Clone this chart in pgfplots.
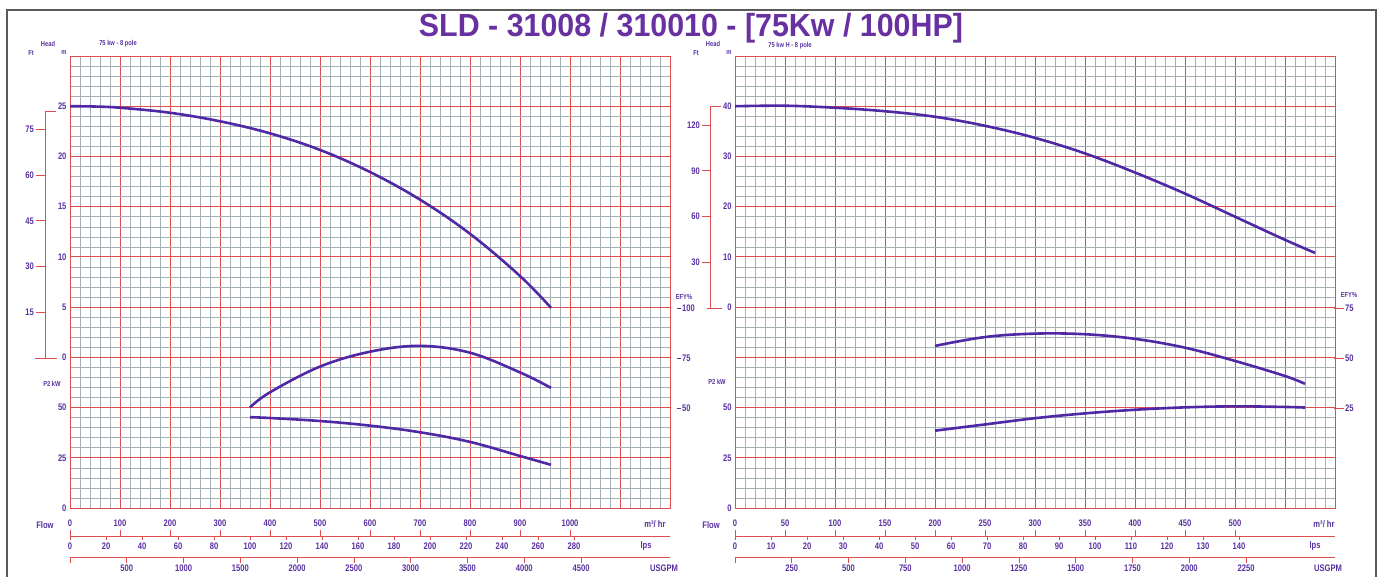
\documentclass[border=0pt]{standalone}
\usepackage{pgfplots}
\pgfplotsset{compat=1.18}
\usepackage{pgfplotstable}
\usepackage{fontspec}
\setmainfont{Liberation Sans}
\newfontfamily\cond{Liberation Sans}[FakeStretch=0.8]
\newfontfamily\titlefont{Liberation Sans}[FakeStretch=0.95]
\definecolor{gridred}{RGB}{222,78,78}
\definecolor{gridgray}{RGB}{162,176,182}
\definecolor{labcol}{RGB}{88,48,160}
\definecolor{curve}{RGB}{78,40,165}
\definecolor{titlecol}{RGB}{104,48,160}
\definecolor{framecol}{RGB}{90,90,90}
\newcommand\lab{\cond\bfseries\fontsize{9.5}{10}\selectfont}
\newcommand\smlab{\cond\bfseries\fontsize{7.2}{8}\selectfont}

% Left panel (SLD-31008): Q in m3/hr, H in m, E in %, P in kW
\pgfplotstableread{
Q H
0 25.0
50 24.97
100 24.85
200 24.35
300 23.5
400 22.3
500 20.65
600 18.45
700 15.7
800 12.3
900 8.1
962 4.93
}\leftH
\pgfplotstableread{
Q E
360 50.1
400 57.6
500 70.4
600 77.8
700 80.7
800 77.3
900 67.5
962 59.8
}\leftE
\pgfplotstableread{
Q P
360 45.2
400 44.8
500 43.3
600 41.0
700 37.7
800 32.9
900 25.9
962 21.5
}\leftP
% Right panel (SLD-310010)
\pgfplotstableread{
Q H
0 40.0
50 40.1
100 39.7
150 39.0
200 37.9
250 36.1
300 33.7
350 30.6
400 26.8
450 22.6
500 18.0
550 13.4
580 10.8
}\rightH
\pgfplotstableread{
Q E
200 55.7
250 60.1
300 61.8
350 61.5
400 59.2
450 54.8
500 48.2
550 40.7
570 36.8
}\rightE
\pgfplotstableread{
Q P
200 38.5
250 41.6
300 44.7
350 47.1
400 48.9
450 50.1
500 50.6
550 50.3
570 50.0
}\rightP

\pgfplotsset{panel/.style={scale only axis, width=600pt, height=452pt, anchor=south west,
  ymin=0, ymax=9, ytick={0,...,9}, minor y tick num=4, minor x tick num=4,
  grid=both, major grid style={draw=gridred, line width=0.9pt},
  minor grid style={draw=gridgray, line width=0.5pt},
  axis line style={draw=gridred, line width=1pt},
  major tick length=0pt, minor tick length=0pt,
  tick label style={font=\lab, text=labcol},
  xticklabel style={yshift=-8pt}},
  crv/.style={draw=curve, line width=2.6pt, smooth, tension=0.6, no marks}}

\begin{document}
\begin{tikzpicture}[x=1pt,y=1pt]
\path[use as bounding box] (0,0) rectangle (1380,576);

% ---------- left panel ----------
\begin{axis}[panel, at={(70pt,68pt)}, xmin=0, xmax=1200, xtick={0,100,...,1200},
  xticklabels={0,100,200,300,400,500,600,700,800,900,1000,{},{}},
  yticklabels={0,25,50,0,5,10,15,20,25,{}}]
\addplot[crv] table[x=Q, y expr=3+\thisrow{H}/5] {\leftH};
\addplot[crv] table[x=Q, y expr=\thisrow{E}/25] {\leftE};
\addplot[crv] table[x=Q, y expr=\thisrow{P}/25] {\leftP};
\end{axis}

% ---------- right panel ----------
\begin{axis}[panel, at={(735pt,68pt)}, xmin=0, xmax=600, xtick={0,50,...,600},
  xticklabels={0,50,100,150,200,250,300,350,400,450,500,{},{}},
  yticklabels={0,25,50,{},0,10,20,30,40,{}}]
\addplot[crv] table[x=Q, y expr=4+\thisrow{H}/10] {\rightH};
\addplot[crv] table[x=Q, y expr=1+\thisrow{E}/25] {\rightE};
\addplot[crv] table[x=Q, y expr=\thisrow{P}/25] {\rightP};
\end{axis}

% ---------- frame and title ----------
\draw[framecol, line width=1.5pt] (7,-5) -- (7,566) -- (1376,566) -- (1376,-5);
\node[font=\titlefont\bfseries\fontsize{32}{34}\selectfont, text=titlecol, inner sep=0pt] at (691,548) {SLD - 31008 / 310010 - [75Kw / 100HP]};

% ---------- left panel decorations ----------
\node[font=\smlab, text=labcol] at (48,532) {Head};
\node[font=\smlab, text=labcol] at (31,523) {Ft};
\node[font=\smlab, text=labcol] at (64,523) {m};
\node[font=\smlab, text=labcol] at (118,532) {75 kw - 8 pole};
\draw[gridred, line width=0.9pt] (35,218) -- (57,218);
\draw[gridred, line width=0.9pt] (45,218) -- (45,465) -- (56,465);
\foreach \f in {15,30,45,60,75} {
  \draw[gridred, line width=0.9pt] (36,{218+3.048*\f}) -- (45,{218+3.048*\f});
  \node[font=\lab, text=labcol, anchor=east, inner sep=1pt] at (35,{218+3.048*\f}) {\f};
}
\node[font=\smlab, text=labcol] at (52,192) {P2 kW};
\node[font=\smlab, text=labcol] at (684,279) {EFY\%};
\foreach \u/\t in {2/50,3/75,4/100} {
  \draw[labcol, line width=0.7pt] (677,{68+50*\u}) -- (681,{68+50*\u});
  \node[font=\lab, text=labcol, anchor=west, inner sep=1pt] at (681,{68+50*\u}) {\t};
}
% flow scales left
\node[font=\lab, text=labcol] at (45,51) {Flow};
\node[font=\lab, text=labcol] at (655,52) {m³/ hr};
\draw[gridred, line width=0.9pt] (70,40) -- (670,40);
\foreach \k in {0,...,10} \draw[gridred, line width=0.8pt] ({70+50*\k},40) -- ++(0,6);
\foreach \l in {0,20,...,280} {
  \draw[gridred, line width=0.8pt] ({70+1.8*\l},40) -- ++(0,-4);
  \node[font=\lab, text=labcol] at ({70+1.8*\l},30) {\l};
}
\node[font=\lab, text=labcol] at (646,30) {lps};
\draw[gridred, line width=0.9pt] (70,19) -- (670,19);
\draw[gridred, line width=0.8pt] (70,19) -- ++(0,-6);
\foreach \g in {500,1000,...,4500} {
  \draw[gridred, line width=0.8pt] ({70+\g/8.80574},19) -- ++(0,-6);
  \node[font=\lab, text=labcol] at ({70+\g/8.80574},8) {\g};
}
\node[font=\lab, text=labcol] at (664,8) {USGPM};

% ---------- right panel decorations ----------
\node[font=\smlab, text=labcol] at (713,532) {Head};
\node[font=\smlab, text=labcol] at (696,523) {Ft};
\node[font=\smlab, text=labcol] at (729,523) {m};
\node[font=\smlab, text=labcol] at (790,530) {75 kw H - 8 pole};
\draw[gridred, line width=0.9pt] (707,268) -- (722,268);
\draw[gridred, line width=0.9pt] (710,268) -- (710,470) -- (721,470);
\foreach \f in {30,60,90,120} {
  \draw[gridred, line width=0.9pt] (702,{268+1.524*\f}) -- (710,{268+1.524*\f});
  \node[font=\lab, text=labcol, anchor=east, inner sep=1pt] at (701,{268+1.524*\f}) {\f};
}
\node[font=\smlab, text=labcol] at (717,194) {P2 kW};
\node[font=\smlab, text=labcol] at (1349,281) {EFY\%};
\foreach \u/\t in {2/25,3/50,4/75} {
  \draw[gridred, line width=0.8pt] (1334,{68+50*\u}) -- (1344,{68+50*\u});
  \node[font=\lab, text=labcol, anchor=west, inner sep=1pt] at (1344,{68+50*\u}) {\t};
}
% flow scales right
\node[font=\lab, text=labcol] at (711,51) {Flow};
\node[font=\lab, text=labcol] at (1324,52) {m³/ hr};
\draw[gridred, line width=0.9pt] (735,40) -- (1335,40);
\foreach \k in {0,...,10} \draw[gridred, line width=0.8pt] ({735+50*\k},40) -- ++(0,6);
\foreach \l in {0,10,...,140} {
  \draw[gridred, line width=0.8pt] ({735+3.6*\l},40) -- ++(0,-4);
  \node[font=\lab, text=labcol] at ({735+3.6*\l},30) {\l};
}
\node[font=\lab, text=labcol] at (1315,30) {lps};
\draw[gridred, line width=0.9pt] (735,19) -- (1335,19);
\draw[gridred, line width=0.8pt] (735,19) -- ++(0,-6);
\foreach \g in {250,500,...,2250} {
  \draw[gridred, line width=0.8pt] ({735+\g/4.40287},19) -- ++(0,-6);
  \node[font=\lab, text=labcol] at ({735+\g/4.40287},8) {\g};
}
\node[font=\lab, text=labcol] at (1328,8) {USGPM};
\end{tikzpicture}
\end{document}
